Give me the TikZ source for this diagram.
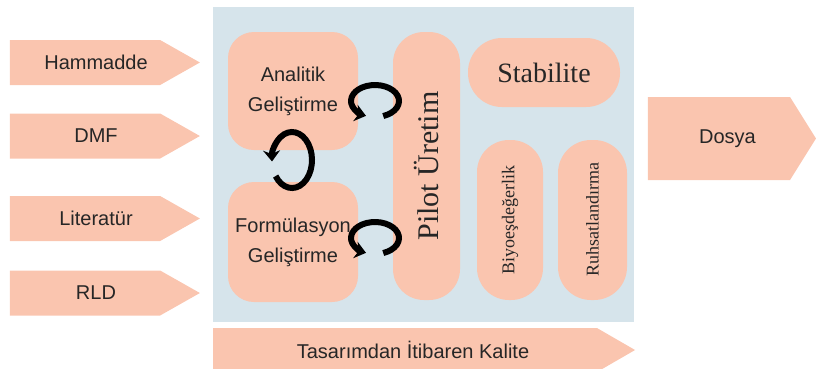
\documentclass[tikz,border=0pt]{standalone}
\usepackage{fontspec}
\setmainfont{Liberation Sans}
\newfontfamily\tirnakli{Liberation Serif}
\usetikzlibrary{shapes.symbols,arrows.meta}
\definecolor{somon}{RGB}{250,197,175}
\definecolor{panelmavi}{RGB}{214,228,235}
\definecolor{yazi}{RGB}{38,38,38}
\tikzset{
  girdi/.style={signal,signal to=east,fill=somon,text=yazi,inner sep=0pt,
    font=\fontsize{20}{24}\selectfont,execute at begin node={\hspace*{#1}}},
  kutu/.style={rectangle,fill=somon,text=yazi,align=center,inner sep=0pt,
    font=\fontsize{20}{30}\selectfont},
  hap/.style={rectangle,fill=somon,text=yazi,inner sep=0pt},
  dongu/.style={line width=6pt,-{Stealth[length=11pt,width=17pt]}}
}
\begin{document}
\begin{tikzpicture}[x=1pt,y=-1pt]
\useasboundingbox (0,0) rectangle (816,368);
% mavi panel
\node[fill=panelmavi,minimum width=421pt,minimum height=315pt,inner sep=0pt] (panel) at (423.5,164.5) {};
% girdiler
\node[girdi=22pt,minimum width=190pt,minimum height=45pt,signal pointer angle=59] (hammadde) at (85,62.5) {Hammadde};
\node[girdi=22pt,minimum width=190pt,minimum height=45pt,signal pointer angle=59] (dmf) at (85,136) {DMF};
\node[girdi=22pt,minimum width=190pt,minimum height=45pt,signal pointer angle=59] (literatur) at (85,218.5) {Literatür};
\node[girdi=22pt,minimum width=190pt,minimum height=45pt,signal pointer angle=59] (rld) at (85,293) {RLD};
% cikti
\node[girdi=17pt,minimum width=168pt,minimum height=83pt,signal pointer angle=116] (dosya) at (719,138.5) {Dosya};
\node[girdi=16pt,minimum width=422pt,minimum height=44pt,signal pointer angle=60] (tasarim) at (405,350) {Tasarımdan İtibaren Kalite};
% kutular
\node[kutu,rounded corners=26pt,minimum width=130pt,minimum height=118pt] (analitik) at (293,91) {Analitik\\Geliştirme};
\node[kutu,rounded corners=26pt,minimum width=130pt,minimum height=120pt] (formul) at (293,242) {Formülasyon\\Geliştirme};
\node[hap,rounded corners=31pt,rotate=90,minimum width=268pt,minimum height=67pt,font=\tirnakli\fontsize{30}{32}\selectfont] (pilot) at (426.5,166) {Pilot Üretim};
\node[hap,rounded corners=34pt,minimum width=152pt,minimum height=69pt,font=\tirnakli\fontsize{28}{30}\selectfont] (stabilite) at (544,72.5) {Stabilite};
\node[hap,rounded corners=32pt,rotate=90,minimum width=160pt,minimum height=66pt,font=\tirnakli\fontsize{18}{20}\selectfont] (biyo) at (510,220) {Biyoeşdeğerlik};
\node[hap,rounded corners=33pt,rotate=90,minimum width=160pt,minimum height=69pt,font=\tirnakli\fontsize{18}{20}\selectfont] (ruhsat) at (592.5,220) {Ruhsatlandırma};
% donguler
\draw[dongu] (375,101) ++(430:24 and 16) arc[start angle=430,end angle=112,x radius=24,y radius=16];
\draw[dongu] (375,238) ++(430:24 and 16) arc[start angle=430,end angle=112,x radius=24,y radius=16];
\draw[dongu] (292,160) ++(145:20 and 28) arc[start angle=145,end angle=-183,x radius=20,y radius=28];
\end{tikzpicture}
\end{document}
